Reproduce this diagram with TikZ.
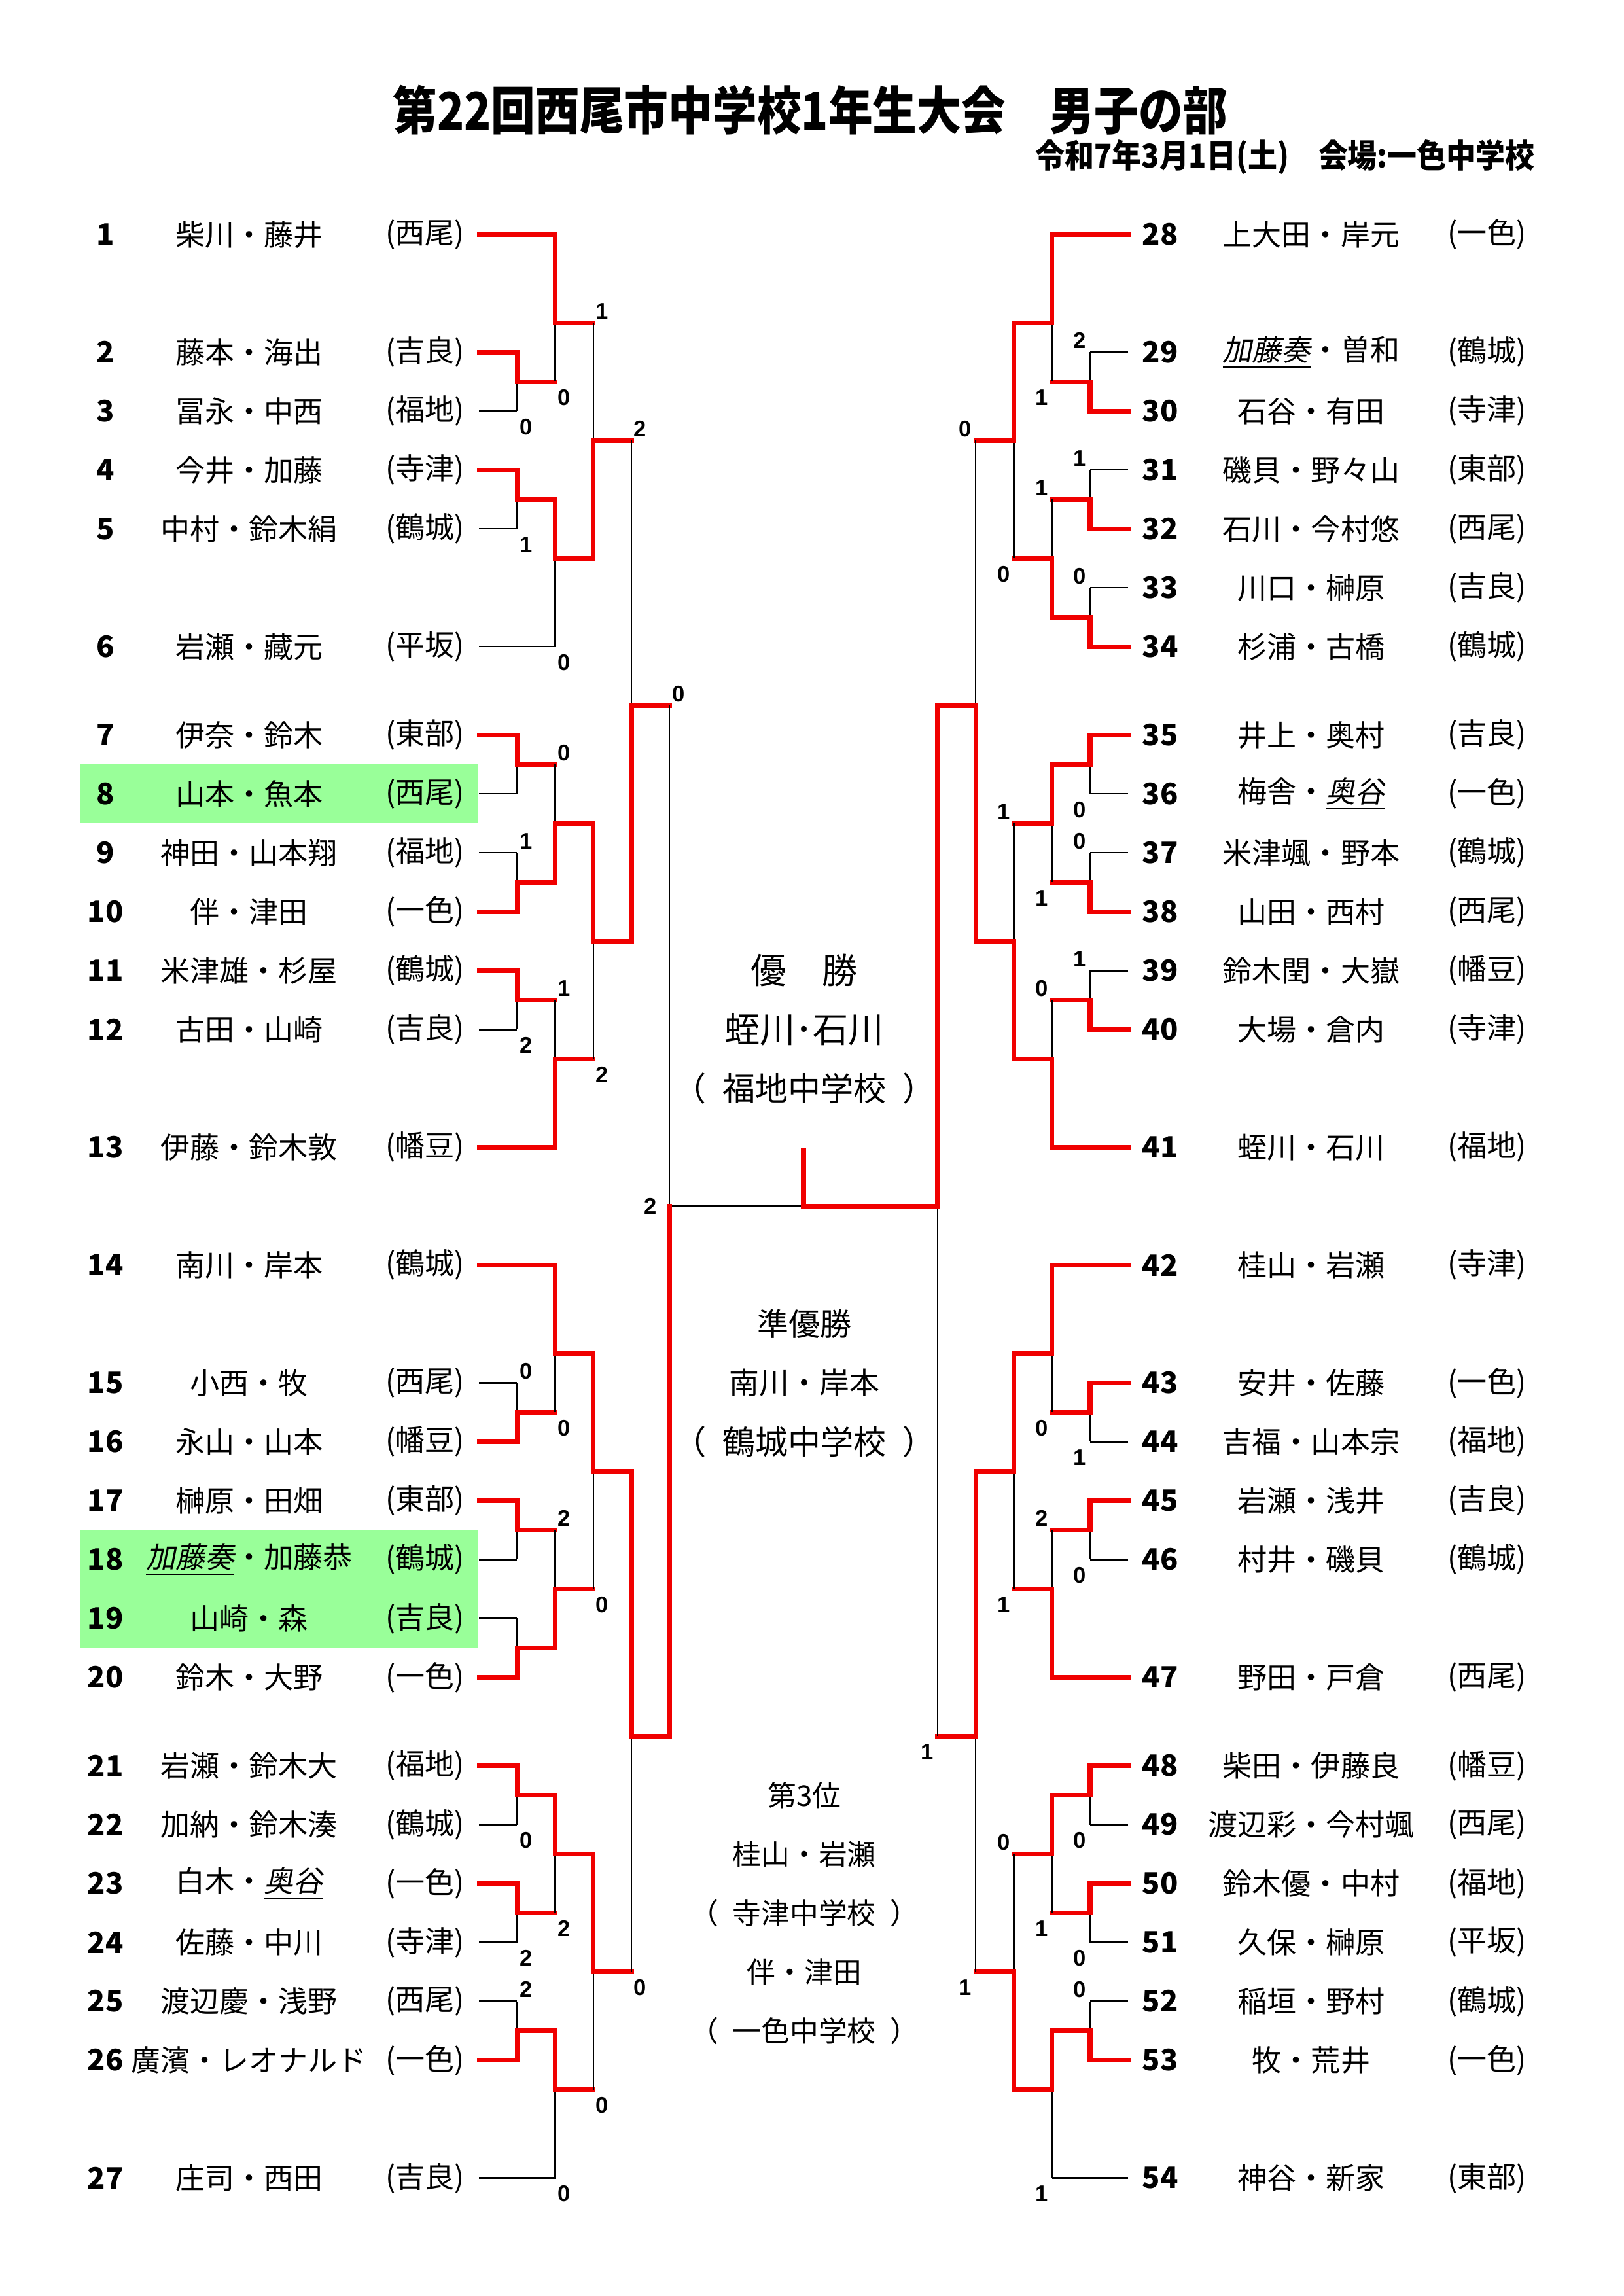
\documentclass[tikz,border=0pt]{standalone}
\usepackage{fontspec}
\setmainfont{Noto Sans CJK JP}
\newfontfamily\jpslant{Noto Sans CJK JP}[FakeSlant=0.2]
\newfontfamily\scorefont{Liberation Sans}
\definecolor{winred}{RGB}{240,0,0}
\definecolor{markgreen}{RGB}{153,255,153}
\newcommand\ital[1]{\underline{\jpslant #1}}
% one match: column x, next column x, upper, lower, winner, output
\newcommand\bout[6]{%
  \draw[loseline] (#1,#3) -- (#1,#4);
  \draw[winline] (#1,#5) -- (#1,#6) -- (#2,#6);}
\begin{document}
\begin{tikzpicture}[x=0.5372pt, y=-21.595pt,
    winline/.style={draw=winred, line width=1.75pt, line cap=rect},
    loseline/.style={draw=black, line width=0.55pt},
    entno/.style={font=\bfseries\fontsize{10.8}{12}\selectfont},
    entname/.style={font=\fontsize{10.8}{12}\selectfont},
    centre/.style={font=\fontsize{#1}{#1}\selectfont},
    score/.style={font=\scorefont\bfseries\fontsize{8.3}{9}\selectfont, inner sep=0pt}]
  \useasboundingbox (0,-3.980) rectangle (1108.1,35.005);

  % title
  \node[font=\bfseries\fontsize{19}{21}\selectfont] (title) at (553,-2.114)
    {\resizebox{306pt}{\height}{第22回西尾市中学校1年生大会　男子の部}};
  \node[font=\bfseries\fontsize{12}{14}\selectfont, anchor=east] (date) at (1054,-1.318)
    {\resizebox{183pt}{\height}{令和7年3月1日(土)　会場:一色中学校}};

  % marked rows
  \fill[markgreen] (55,9) rectangle (326,10);
  \fill[markgreen] (55,22) rectangle (326,24);

  % left entry lines
  \foreach \n/\e in {0/379, 2/353, 4/353, 8.5/353, 11.5/353, 12.5/353, 15.5/379,
      17.5/379, 20.5/353, 21.5/353, 24.5/353, 26/353, 28/353, 31/353}
    \draw[winline] (327,\n) -- (\e,\n);
  \foreach \n/\e in {3/353, 5/353, 7/379, 9.5/353, 10.5/353, 13.5/353, 19.5/353,
      22.5/353, 23.5/353, 27/353, 29/353, 30/353, 33/379}
    \draw[loseline] (327,\n) -- (\e,\n);

  % right entry lines
  \foreach \n/\e in {0/718, 3/744, 5/744, 7/744, 8.5/744, 11.5/744, 13.5/744, 15.5/718,
      17.5/718, 19.5/744, 21.5/744, 24.5/718, 26/744, 28/744, 31/744}
    \draw[winline] (770,\n) -- (\e,\n);
  \foreach \n/\e in {2/744, 4/744, 6/744, 9.5/744, 10.5/744, 12.5/744, 20.5/744,
      22.5/744, 27/744, 29/744, 30/744, 33/718}
    \draw[loseline] (770,\n) -- (\e,\n);

  % left rounds
  \foreach \u/\l/\w/\o in {2/3/2/2.5, 4/5/4/4.5, 8.5/9.5/8.5/9, 10.5/11.5/11.5/11,
      12.5/13.5/12.5/13, 19.5/20.5/20.5/20, 21.5/22.5/21.5/22, 23.5/24.5/24.5/24,
      26/27/26/26.5, 28/29/28/28.5, 30/31/31/30.5}
    {\bout{353}{379}{\u}{\l}{\w}{\o}}
  \foreach \u/\l/\w/\o in {0/2.5/0/1.5, 4.5/7/4.5/5.5, 9/11/11/10, 13/15.5/15.5/14,
      17.5/20/17.5/19, 22/24/24/23, 26.5/28.5/26.5/27.5, 30.5/33/30.5/31.5}
    {\bout{379}{405}{\u}{\l}{\w}{\o}}
  \foreach \u/\l/\w/\o in {1.5/5.5/5.5/3.5, 10/14/10/12, 19/23/19/21, 27.5/31.5/27.5/29.5}
    {\bout{405}{431}{\u}{\l}{\w}{\o}}
  \foreach \u/\l/\w/\o in {3.5/12/12/8, 21/29.5/21/25.5}
    {\bout{431}{457}{\u}{\l}{\w}{\o}}
  \draw[loseline] (457,8) -- (457,25.5);
  \draw[loseline] (457,16.5) -- (548.5,16.5);
  \draw[winline] (457,25.5) -- (457,16.5);

  % right rounds
  \foreach \u/\l/\w/\o in {2/3/3/2.5, 4/5/5/4.5, 6/7/7/6.5, 8.5/9.5/8.5/9,
      10.5/11.5/11.5/11, 12.5/13.5/13.5/13, 19.5/20.5/19.5/20, 21.5/22.5/21.5/22,
      26/27/26/26.5, 28/29/28/28.5, 30/31/31/30.5}
    {\bout{744}{718}{\u}{\l}{\w}{\o}}
  \foreach \u/\l/\w/\o in {0/2.5/0/1.5, 4.5/6.5/6.5/5.5, 9/11/9/10, 13/15.5/15.5/14,
      17.5/20/17.5/19, 22/24.5/24.5/23, 26.5/28.5/26.5/27.5, 30.5/33/30.5/31.5}
    {\bout{718}{692}{\u}{\l}{\w}{\o}}
  \foreach \u/\l/\w/\o in {1.5/5.5/1.5/3.5, 10/14/14/12, 19/23/19/21, 27.5/31.5/31.5/29.5}
    {\bout{692}{666}{\u}{\l}{\w}{\o}}
  \foreach \u/\l/\w/\o in {3.5/12/12/8, 21/29.5/21/25.5}
    {\bout{666}{640}{\u}{\l}{\w}{\o}}
  \bout{640}{548.5}{8}{25.5}{8}{16.5}
  \draw[winline] (548.5,16.5) -- (548.5,15.55);

  % left entries
  \foreach \i/\n/\nm/\sc in {1/0/柴川・藤井/西尾, 2/2/藤本・海出/吉良, 3/3/冨永・中西/福地,
      4/4/今井・加藤/寺津, 5/5/中村・鈴木絹/鶴城, 6/7/岩瀬・藏元/平坂,
      7/8.5/伊奈・鈴木/東部, 8/9.5/山本・魚本/西尾, 9/10.5/神田・山本翔/福地,
      10/11.5/伴・津田/一色, 11/12.5/米津雄・杉屋/鶴城, 12/13.5/古田・山崎/吉良,
      13/15.5/伊藤・鈴木敦/幡豆, 14/17.5/南川・岸本/鶴城, 15/19.5/小西・牧/西尾,
      16/20.5/永山・山本/幡豆, 17/21.5/榊原・田畑/東部, 18/22.5/\ital{加藤奏}・加藤恭/鶴城,
      19/23.5/山崎・森/吉良, 20/24.5/鈴木・大野/一色, 21/26/岩瀬・鈴木大/福地,
      22/27/加納・鈴木湊/鶴城, 23/28/白木・\ital{奥谷}/一色, 24/29/佐藤・中川/寺津,
      25/30/渡辺慶・浅野/西尾, 26/31/廣濱・レオナルド/一色, 27/33/庄司・西田/吉良}
  {
    \node[entno] (no\i) at (72,\n) {\i};
    \node[entname] (nm\i) at (170,\n) {\nm};
    \node[entname] (sc\i) at (290,\n) {(\sc)};
  }

  % right entries
  \foreach \i/\n/\nm/\sc in {28/0/上大田・岸元/一色, 29/2/\ital{加藤奏}・曽和/鶴城,
      30/3/石谷・有田/寺津, 31/4/磯貝・野々山/東部, 32/5/石川・今村悠/西尾,
      33/6/川口・榊原/吉良, 34/7/杉浦・古橋/鶴城, 35/8.5/井上・奥村/吉良,
      36/9.5/梅舎・\ital{奥谷}/一色, 37/10.5/米津颯・野本/鶴城, 38/11.5/山田・西村/西尾,
      39/12.5/鈴木閏・大嶽/幡豆, 40/13.5/大場・倉内/寺津, 41/15.5/蛭川・石川/福地,
      42/17.5/桂山・岩瀬/寺津, 43/19.5/安井・佐藤/一色, 44/20.5/吉福・山本宗/福地,
      45/21.5/岩瀬・浅井/吉良, 46/22.5/村井・磯貝/鶴城, 47/24.5/野田・戸倉/西尾,
      48/26/柴田・伊藤良/幡豆, 49/27/渡辺彩・今村颯/西尾, 50/28/鈴木優・中村/福地,
      51/29/久保・榊原/平坂, 52/30/稲垣・野村/鶴城, 53/31/牧・荒井/一色,
      54/33/神谷・新家/東部}
  {
    \node[entno] (no\i) at (792,\n) {\i};
    \node[entname] (nm\i) at (895,\n) {\nm};
    \node[entname] (sc\i) at (1015,\n) {(\sc)};
  }

  % left scores
  \foreach \x/\n/\s [count=\k] in {359/3.27/0, 359/5.27/1, 359/10.3/1, 359/13.77/2,
      359/19.3/0, 359/27.27/0, 359/29.27/2, 359/29.8/2,
      385/2.77/0, 385/7.27/0, 385/8.8/0, 385/12.8/1, 385/20.27/0, 385/21.8/2,
      385/28.77/2, 385/33.27/0, 411/1.3/1, 411/14.27/2, 411/23.27/0, 411/31.77/0,
      437/3.3/2, 437/29.77/0, 463/7.8/0, 444/16.5/2}
    \node[score] (ls\k) at (\x,\n) {\s};

  % right scores
  \foreach \x/\n/\s [count=\k] in {737/1.8/2, 737/3.8/1, 737/5.8/0, 737/9.77/0,
      737/10.3/0, 737/12.3/1, 737/20.77/1, 737/22.77/0, 737/27.27/0, 737/29.27/0,
      737/29.8/0, 711/2.77/1, 711/4.3/1, 711/11.27/1, 711/12.8/0, 711/20.27/0,
      711/21.8/2, 711/28.77/1, 711/33.27/1, 685/5.77/0, 685/9.8/1, 685/23.27/1,
      685/27.3/0, 659/3.3/0, 659/29.77/1, 633/25.77/1}
    \node[score] (rs\k) at (\x,\n) {\s};

  % results
  \node[centre=13] (win) at (549,12.5) {優　勝};
  \node[centre=13] (winname) at (549,13.5) {蛭川･石川};
  \node[centre=12] (winschool) at (549,14.5) {（\hspace{.5em}福地中学校\hspace{.5em}）};
  \node[centre=11.5] (second) at (549,18.5) {準優勝};
  \node[centre=11] (secname) at (549,19.5) {南川・岸本};
  \node[centre=12] (secschool) at (549,20.5) {（\hspace{.5em}鶴城中学校\hspace{.5em}）};
  \node[centre=10.5] (third) at (549,26.5) {第3位};
  \node[centre=10.5] (thirdname) at (549,27.5) {桂山・岩瀬};
  \node[centre=10.5] (thirdschool) at (549,28.5) {（\hspace{.5em}寺津中学校\hspace{.5em}）};
  \node[centre=10.5] (thirdnameb) at (549,29.5) {伴・津田};
  \node[centre=10.5] (thirdschoolb) at (549,30.5) {（\hspace{.5em}一色中学校\hspace{.5em}）};
\end{tikzpicture}
\end{document}
